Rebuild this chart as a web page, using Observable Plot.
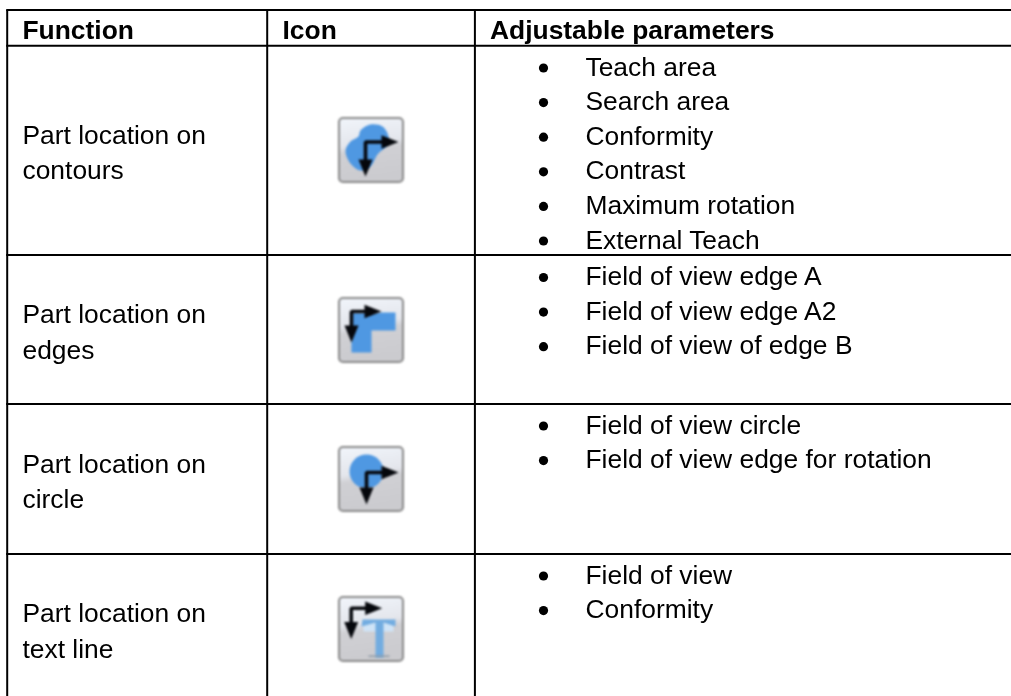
<!DOCTYPE html>
<html>
<head>
<meta charset="utf-8">
<script src="https://cdn.jsdelivr.net/npm/d3@7"></script>
<script src="https://cdn.jsdelivr.net/npm/@observablehq/plot@0.6"></script>
<style>
html,body{margin:0;padding:0;background:#fff;}
svg{display:block;}
</style>
</head>
<body>
<div id="chart"></div>
<script>
const headers = ["Function", "Icon", "Adjustable parameters"];
const functions = ["Part location on\ncontours", "Part location on\nedges", "Part location on\ncircle", "Part location on\ntext line"];
const params0 = ["Teach area", "Search area", "Conformity", "Contrast", "Maximum rotation", "External Teach"];
const params1 = ["Field of view edge A", "Field of view edge A2", "Field of view of edge B"];
const params2 = ["Field of view circle", "Field of view edge for rotation"];
const params3 = ["Field of view", "Conformity"];
const paramLists = [params0, params1, params2, params3];

// layout of the table
const W = 1011, H = 696, FS = 26.4, LH = 34.6;
const colEdges = [7.2, 267.2, 474.9];
const rowEdges = [10, 45.7, 255, 404, 554];
const textX = [22, 282, 489.5];
const bulletX = 543, paramX = 585;
const funcOffsets = [133, 103, 103.5, 103];
const paramOffset = [29.3, 29.5, 29, 29];
const iconTop = [118, 298, 447, 597], iconX = 339, iconS = 64;

const hLines = rowEdges.map(y => ({y}));
const vLines = colEdges.map(x => ({x}));
const headerRows = headers.map((t, i) => ({t, x: textX[i], y: 38}));
const funcRows = functions.map((t, i) => ({t, x: textX[0], y: rowEdges[i + 1] + funcOffsets[i]}));
const paramRows = paramLists.flatMap((l, r) => l.map((t, i) => ({t, x: paramX, y: rowEdges[r + 1] + paramOffset[r] + i * LH})));

// icon glyphs, in the icon's own 64-unit box
const blob = [[21,12],[31,6],[43,8],[49,18],[47,27],[38,36],[31,48],[21,52],[11,45],[6,32],[11,23],[19,18]];
const lShape = [[12,14],[56,14],[56,32],[32,32],[32,54],[12,54]];
const tBar = [[22,29],[23,22],[56,22],[56,29],[44,25],[44,60],[36,60],[36,25]];
const tGlow = [[24,24],[54,24],[54,34],[24,34]];
const tSerif = [[29,58],[50,58],[50,59.5],[29,59.5]];
const iconArrows = [
  {cx:26, cy:23.5, ex:59, ey:58},
  {cx:12, cy:13, ex:42, ey:44},
  {cx:27, cy:25, ex:59, ey:57},
  {cx:11.7, cy:10.7, ex:42.7, ey:41.5}
];

const at = (pts, r, g) => pts.map(([x, y]) => ({x: iconX + x, y: iconTop[r] + y, g}));
const boxes = iconTop.map(t => ({x1: iconX, x2: iconX + iconS, y1: t, y2: t + iconS}));
const blobPts = at(blob, 0, "blob");
const lPts = at(lShape, 1, "l");
const glow = at(tGlow, 3, "glow");
const tBlue = at(tBar, 3, "t");
const tGrey = at(tSerif, 3, "s");
const shafts = iconArrows.flatMap((a, r) => at([[a.ex - 12, a.cy], [a.cx, a.cy], [a.cx, a.ey - 12]], r, "s" + r));
const heads = iconArrows.flatMap((a, r) => [
  ...at([[a.ex - 17, a.cy - 6.8], [a.ex, a.cy], [a.ex - 17, a.cy + 6.8]], r, "h" + r),
  ...at([[a.cx - 7, a.ey - 17], [a.cx, a.ey], [a.cx + 7, a.ey - 17]], r, "v" + r)
]);
const disc = [{x: iconX + 27, y: iconTop[2] + 24}];

const textOpts = {x: "x", y: "y", text: "t", textAnchor: "start", lineAnchor: "bottom", fontSize: FS, lineHeight: 1.33, fill: "#000"};
const ic = {x: "x", y: "y", z: "g"};

const plot = Plot.plot({
  width: W, height: H,
  marginTop: 0, marginRight: 0, marginBottom: 0, marginLeft: 0,
  style: {fontFamily: "'Liberation Sans', Arial, sans-serif", background: "#fff"},
  x: {domain: [0, W], range: [0, W], axis: null},
  y: {domain: [0, H], range: [0, H], axis: null},
  marks: [
    Plot.ruleY(hLines, {y: "y", x1: colEdges[0] - 1, x2: W, stroke: "#000", strokeWidth: 2, dy: -0.5}),
    Plot.ruleX(vLines, {x: "x", y1: rowEdges[0], y2: H, stroke: "#000", strokeWidth: 2, dx: -0.5}),
    Plot.text(headerRows, {...textOpts, fontWeight: "bold"}),
    Plot.text(funcRows, textOpts),
    Plot.text(paramRows, textOpts),
    Plot.dot(paramRows, {x: bulletX, y: d => d.y - 7.5, r: 4.6, fill: "#000", stroke: "none"}),
    Plot.rect(boxes, {x1: "x1", x2: "x2", y1: "y1", y2: "y2", rx: 4, fill: "url(#iconBg)", stroke: "#8a8a8a", strokeWidth: 2}),
    Plot.line(blobPts, {...ic, fill: "#4f98e2", stroke: "none", curve: "catmull-rom-closed"}),
    Plot.line(lPts, {...ic, fill: "#4f98e2", stroke: "none"}),
    Plot.dot(disc, {x: "x", y: "y", r: 17, fill: "#4f98e2", stroke: "none"}),
    Plot.line(glow, {...ic, fill: "#cfe4f7", stroke: "none"}),
    Plot.line(tBlue, {...ic, fill: "#72ace0", stroke: "none"}),
    Plot.line(tGrey, {...ic, fill: "#8f9aa6", stroke: "none"}),
    Plot.line(shafts, {...ic, stroke: "#05070c", strokeWidth: 3.6, strokeLinejoin: "miter"}),
    Plot.line(heads, {...ic, fill: "#05070c", stroke: "none"})
  ]
});

const ns = "http://www.w3.org/2000/svg";
const defs = document.createElementNS(ns, "defs");
const grad = document.createElementNS(ns, "linearGradient");
grad.setAttribute("id", "iconBg");
grad.setAttribute("x1", "0"); grad.setAttribute("y1", "0");
grad.setAttribute("x2", "0.15"); grad.setAttribute("y2", "1");
[["0", "#f1f5fb"], ["0.45", "#e4e6ec"], ["0.56", "#d0d0d4"], ["1", "#cbcbcf"]].forEach(([o, c]) => {
  const s = document.createElementNS(ns, "stop");
  s.setAttribute("offset", o); s.setAttribute("stop-color", c);
  grad.appendChild(s);
});
defs.appendChild(grad);
plot.insertBefore(defs, plot.firstChild);
d3.select(plot).selectAll('g[aria-label="line"], g[aria-label="rect"]').style("filter", "blur(0.9px)");
d3.select(plot.querySelectorAll('g[aria-label="dot"]')[1]).style("filter", "blur(0.9px)");
d3.select(plot).selectAll('g[aria-label="text"]').style("filter", "blur(0.3px)");
document.getElementById("chart").appendChild(plot);
</script>
</body>
</html>
